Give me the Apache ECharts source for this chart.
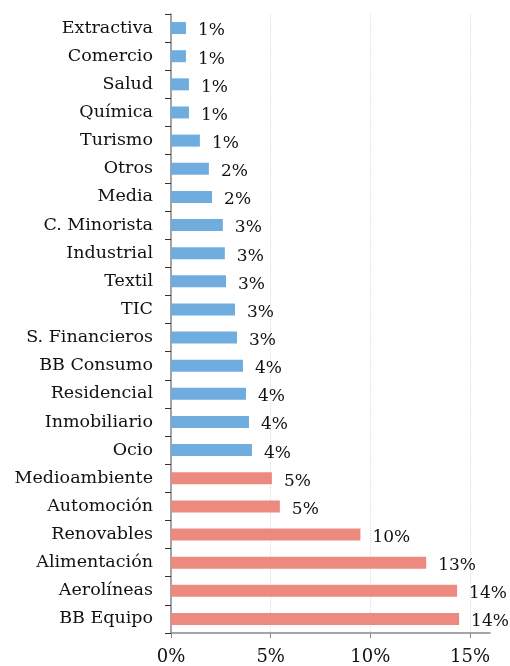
<!DOCTYPE html>
<html>
<head>
<meta charset="utf-8">
<script src="https://cdn.jsdelivr.net/npm/echarts@6/dist/echarts.min.js"></script>
<style>
  html, body { margin: 0; padding: 0; background: #fff; }
  #chart { width: 510px; height: 666px; }
</style>
</head>
<body>
<div id="chart"></div>
<script>
// sectores, de arriba a abajo
const sectores = ['Extractiva', 'Comercio', 'Salud', 'Química', 'Turismo', 'Otros', 'Media',
  'C. Minorista', 'Industrial', 'Textil', 'TIC', 'S. Financieros', 'BB Consumo', 'Residencial',
  'Inmobiliario', 'Ocio', 'Medioambiente', 'Automoción', 'Renovables', 'Alimentación',
  'Aerolíneas', 'BB Equipo'];
const pesos = [0.75, 0.75, 0.9, 0.9, 1.45, 1.9, 2.06, 2.6, 2.7, 2.76, 3.21, 3.31, 3.61, 3.76,
  3.91, 4.06, 5.06, 5.46, 9.5, 12.8, 14.35, 14.45];
// los 6 últimos van en rojo
const destacados = ['Medioambiente', 'Automoción', 'Renovables', 'Alimentación', 'Aerolíneas', 'BB Equipo'];
const ticksX = [0, 5, 10, 15];

const fuente = '"DejaVu Serif", serif';
const myChart = echarts.init(document.getElementById('chart'));

const option = {
  animation: false,
  grid: { left: 171, right: 20, top: 14, bottom: 31, containLabel: false },
  xAxis: {
    type: 'value',
    min: 0,
    max: 16,
    interval: 5,
    axisLine: { show: true, lineStyle: { color: '#888', width: 1.5 } },
    axisTick: { show: true, length: 5, lineStyle: { color: '#888' } },
    axisLabel: {
      margin: 15,
      fontFamily: fuente,
      fontSize: 18,
      color: '#111',
      showMaxLabel: false,
      formatter: v => ticksX.includes(v) ? v + '%' : ''
    },
    splitLine: {
      show: true,
      showMaxLine: false,
      lineStyle: { color: '#ddd', type: 'dotted', width: 1.2 }
    }
  },
  yAxis: {
    type: 'category',
    inverse: true,
    data: sectores,
    axisLine: { show: true, lineStyle: { color: '#888', width: 1.5 } },
    axisTick: { show: true, length: 6, lineStyle: { color: '#333' } },
    axisLabel: { margin: 18, fontFamily: fuente, fontSize: 17.5, color: '#111' }
  },
  series: [{
    type: 'bar',
    barWidth: 12,
    data: pesos.map((v, i) => ({
      value: v,
      itemStyle: { color: destacados.includes(sectores[i]) ? '#EC8A80' : '#6FADDF' }
    })),
    label: {
      show: true,
      position: 'right',
      distance: 12,
      offset: [0, 3],
      fontFamily: fuente,
      fontSize: 17,
      color: '#111',
      formatter: p => Math.round(p.value) + '%'
    }
  }]
};
option && myChart.setOption(option);
</script>
</body>
</html>
